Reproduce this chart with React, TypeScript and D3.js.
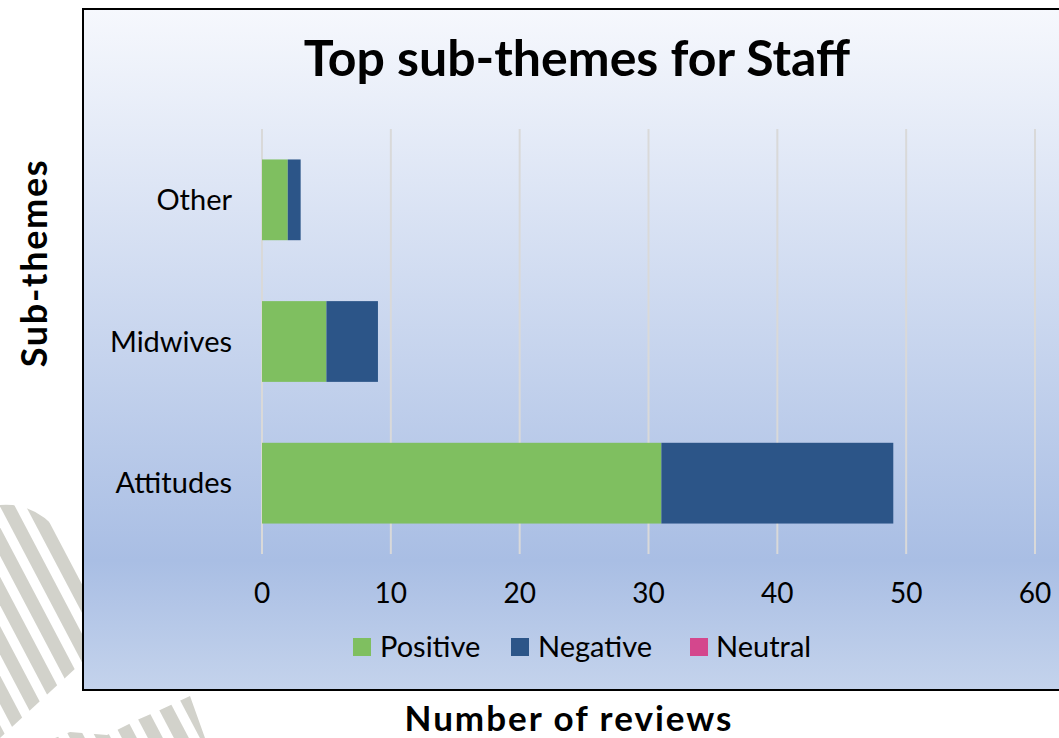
import React from "react";
import * as d3 from "d3";

const categories = ["Attitudes", "Midwives", "Other"];
const positive = [31, 5, 2];
const negative = [18, 4, 1];
const neutral = [0, 0, 0];
const seriesNames = ["Positive", "Negative", "Neutral"];
const seriesColors = ["#7fbf60", "#2c5588", "#d4478d"];
const xTicks = [0, 10, 20, 30, 40, 50, 60];

const W = 1059;
const H = 738;
const FONT = "Lato, 'Open Sans', sans-serif";

export default function App() {
  const x = d3.scaleLinear().domain([0, 60]).range([262, 1035]);
  const y = d3
    .scaleBand<string>()
    .domain(["Other", "Midwives", "Attitudes"])
    .range([129, 554])
    .paddingInner(0.43)
    .paddingOuter(0.215);

  const rows = categories.map((c, i) => ({
    cat: c,
    vals: [positive[i], negative[i], neutral[i]],
  }));

  const stack = d3
    .stack<any>()
    .keys(["0", "1", "2"])
    .value((d: any, k: string) => d.vals[+k]);
  const stacked = stack(rows);

  // decorative stripes
  const stripeLines: number[] = d3.range(-420, 220, 26);
  const slope = 1.9;

  const legendItems = [
    { name: seriesNames[0], sx: 353, tx: 380 },
    { name: seriesNames[1], sx: 511, tx: 538 },
    { name: seriesNames[2], sx: 690, tx: 716 },
  ];

  return (
    <svg
      width={W}
      height={H}
      style={{ position: "absolute", left: 0, top: 0, display: "block" }}
    >
      <defs>
        <linearGradient id="bg" x1="0" y1="0" x2="0" y2="1">
          <stop offset="0" stopColor="#f6f8fd" />
          <stop offset="0.81" stopColor="#a9bee4" />
          <stop offset="1" stopColor="#c4d3ec" />
        </linearGradient>
        <clipPath id="clipA">
          <path d="M0,505 Q58,500 90,590 L90,655 L0,738 Z" />
        </clipPath>
        <clipPath id="clipB">
          <path d="M55,738 L70,732 L107,735 L137,720 L160,710 L190,696 L205,738 Z" />
        </clipPath>
      </defs>
      <rect x={0} y={0} width={W} height={H} fill="#ffffff" />

      {/* decorative stripes */}
      {["clipA", "clipB"].map((cid) => (
        <g key={cid} clipPath={`url(#${cid})`}>
          {stripeLines.map((s, i) => (
            <polygon
              key={i}
              points={`${s},400 ${s + 15},400 ${s + 15 + 200},${400 + 200 * slope} ${s + 200},${400 + 200 * slope}`}
              fill="#d2d2cb"
            />
          ))}
        </g>
      ))}

      {/* chart area */}
      <rect
        x={83}
        y={9}
        width={1000}
        height={681}
        fill="url(#bg)"
        stroke="#000"
        strokeWidth={2}
      />

      <text
        x={577}
        y={76}
        textAnchor="middle"
        fontFamily={FONT}
        fontWeight="bold"
        fontSize={50}
        fill="#000"
      >
        Top sub-themes for Staff
      </text>

      {/* gridlines */}
      {xTicks.map((t) => (
        <line
          key={t}
          x1={x(t)}
          x2={x(t)}
          y1={129}
          y2={554}
          stroke="#d9d9d9"
          strokeWidth={2}
        />
      ))}

      {/* bars */}
      {stacked.map((layer, si) => (
        <g key={si} fill={seriesColors[si]}>
          {layer.map((d: any, i: number) =>
            d[1] - d[0] > 0 ? (
              <rect
                key={i}
                x={x(d[0])}
                width={x(d[1]) - x(d[0])}
                y={y(d.data.cat)}
                height={y.bandwidth()}
              />
            ) : null
          )}
        </g>
      ))}

      {/* category labels */}
      {categories.map((c) => (
        <text
          key={c}
          x={232}
          y={(y(c) as number) + y.bandwidth() / 2}
          dy="0.35em"
          textAnchor="end"
          fontFamily={FONT}
          fontSize={29}
          fill="#000"
        >
          {c}
        </text>
      ))}

      {/* x tick labels */}
      {xTicks.map((t) => (
        <text
          key={t}
          x={x(t)}
          y={593}
          dy="0.35em"
          textAnchor="middle"
          fontFamily={FONT}
          fontSize={28}
          fill="#000"
        >
          {t}
        </text>
      ))}

      {/* legend */}
      {legendItems.map((l, i) => (
        <g key={l.name}>
          <rect x={l.sx} y={638} width={18} height={18} fill={seriesColors[i]} />
          <text
            x={l.tx}
            y={647}
            dy="0.35em"
            fontFamily={FONT}
            fontSize={29}
            fill="#000"
          >
            {l.name}
          </text>
        </g>
      ))}

      {/* axis titles */}
      <text
        transform="translate(47,263) rotate(-90)"
        textAnchor="middle"
        fontFamily={FONT}
        fontWeight="bold"
        fontSize={36}
        letterSpacing={1.7}
        fill="#000"
      >
        Sub-themes
      </text>
      <text
        x={569}
        y={731}
        textAnchor="middle"
        fontFamily={FONT}
        fontWeight="bold"
        fontSize={35}
        letterSpacing={2}
        fill="#000"
      >
        Number of reviews
      </text>
    </svg>
  );
}
